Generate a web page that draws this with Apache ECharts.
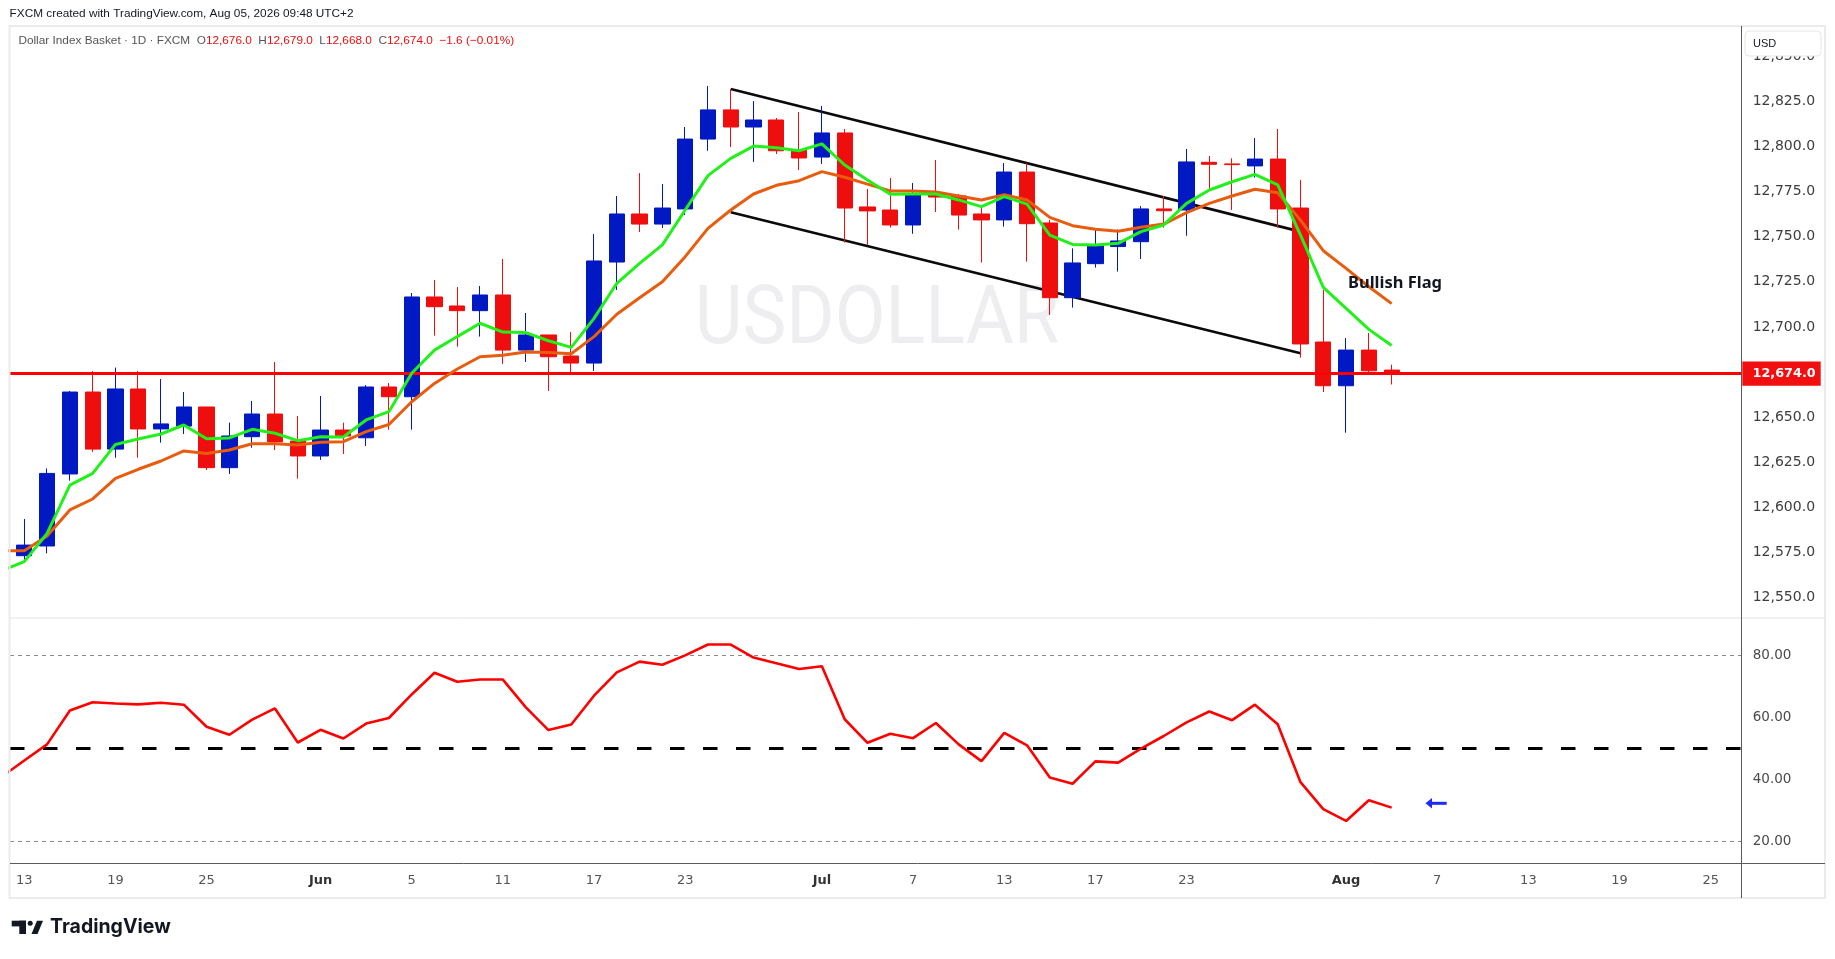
<!DOCTYPE html>
<html>
<head>
<meta charset="utf-8">
<script src="https://cdn.jsdelivr.net/npm/echarts@6/dist/echarts.min.js"></script>
<style>
html,body{margin:0;padding:0;background:#ffffff;}
#c{width:1835px;height:959px;}
</style>
</head>
<body>
<div id="c"></div>
<script>
// ---------------- DATA ----------------
const dates = [
 '2026-05-13','2026-05-14','2026-05-15','2026-05-18','2026-05-19','2026-05-20','2026-05-21','2026-05-22','2026-05-25','2026-05-26','2026-05-27','2026-05-28','2026-05-29',
 '2026-06-01','2026-06-02','2026-06-03','2026-06-04','2026-06-05','2026-06-08','2026-06-09','2026-06-10','2026-06-11','2026-06-12','2026-06-15','2026-06-16','2026-06-17','2026-06-18','2026-06-19','2026-06-22','2026-06-23','2026-06-24','2026-06-25','2026-06-26','2026-06-29','2026-06-30',
 '2026-07-01','2026-07-02','2026-07-03','2026-07-06','2026-07-07','2026-07-08','2026-07-09','2026-07-10','2026-07-13','2026-07-14','2026-07-15','2026-07-16','2026-07-17','2026-07-20','2026-07-21','2026-07-22','2026-07-23','2026-07-24','2026-07-27','2026-07-28','2026-07-29','2026-07-30','2026-07-31',
 '2026-08-03','2026-08-04','2026-08-05'
];
const opens = [
 12572.9,12578.3,12618.3,12663.8,12632.1,12665.5,12643.3,12644.9,12655.5,12621.8,12639.0,12651.6,12636.6,
 12628.3,12642.7,12638.4,12666.6,12661.2,12716.6,12711.6,12709.0,12717.7,12687.1,12695.5,12683.8,12679.9,12736.0,12762.7,12757.1,12765.5,12804.3,12820.5,12811.0,12814.9,12798.2,
 12794.3,12807.7,12766.6,12764.9,12756.6,12773.8,12772.7,12762.7,12759.4,12786.0,12757.7,12716.2,12735.1,12744.6,12747.3,12765.5,12764.9,12791.4,12790.5,12789.4,12793.2,12766.0,12691.6,
 12667.3,12687.1,12676.0
];
const closes = [
 12578.8,12618.6,12663.8,12632.1,12665.5,12643.3,12646.1,12655.5,12621.8,12639.4,12651.6,12636.1,12628.3,
 12642.7,12639.4,12666.6,12661.2,12716.6,12711.2,12709.0,12717.7,12687.1,12695.5,12683.4,12679.9,12736.6,12762.7,12757.1,12766.0,12804.3,12820.5,12811.0,12814.9,12797.8,12793.8,
 12807.7,12766.0,12764.4,12756.6,12773.8,12772.1,12762.1,12759.4,12786.0,12757.3,12716.2,12735.5,12745.5,12747.7,12765.5,12764.5,12791.6,12790.3,12790.1,12793.2,12765.5,12690.5,12667.3,
 12687.1,12675.6,12674.0
];
const lows = [
 12570.5,12574.2,12614.6,12630.6,12627.3,12627.3,12635.7,12640.5,12620.5,12618.3,12632.9,12631.6,12615.7,
 12626.1,12629.4,12633.8,12642.9,12642.9,12695.1,12689.0,12694.6,12679.4,12680.5,12664.4,12674.4,12675.5,12720.5,12752.7,12754.9,12762.1,12797.8,12799.9,12791.6,12796.0,12787.1,
 12790.5,12746.8,12745.5,12755.1,12751.7,12763.8,12754.0,12735.7,12755.7,12736.2,12706.6,12710.7,12732.9,12730.7,12737.7,12755.1,12750.6,12776.0,12764.9,12782.9,12755.1,12682.9,12663.8,
 12641.2,12674.0,12668.0
];
const highs = [
 12593.3,12621.4,12664.4,12675.5,12677.4,12675.5,12671.0,12663.8,12655.5,12646.8,12658.8,12680.5,12650.5,
 12661.6,12646.8,12667.7,12668.8,12718.8,12726.0,12722.1,12722.7,12737.7,12707.7,12695.5,12697.1,12751.6,12772.7,12785.4,12779.3,12811.0,12833.8,12832.1,12825.4,12816.0,12819.3,
 12822.7,12809.9,12776.6,12782.7,12779.9,12792.7,12773.8,12766.0,12791.0,12791.0,12759.4,12743.6,12754.7,12754.1,12767.1,12772.7,12798.8,12794.9,12793.6,12804.9,12809.9,12781.6,12720.5,
 12693.8,12696.6,12679.0
];
// moving averages and RSI start one bar before the first visible candle (index -1)
const seriesStart = -1;
const maFast = [
 12564.6,12569.6,12585.3,12612.1,12618.6,12634.7,12637.7,12640.5,12645.5,12637.9,12638.3,12643.1,12640.9,12636.8,
 12639.0,12638.8,12648.3,12652.9,12674.2,12687.1,12694.6,12702.0,12697.1,12696.8,12692.3,12688.6,12704.7,12724.2,12735.3,12745.5,12764.9,12784.0,12793.6,12800.4,12799.5,12797.8,
 12801.6,12789.9,12781.6,12773.6,12773.8,12773.8,12770.5,12766.8,12772.3,12768.2,12751.0,12745.8,12745.5,12746.4,12752.9,12756.6,12768.6,12776.0,12780.6,12784.7,12778.8,12751.0,12721.9,
 12710.3,12698.6,12689.7
];
const maSlow = [
 12575.7,12575.7,12583.8,12598.3,12604.4,12615.8,12620.9,12625.5,12631.1,12629.7,12631.6,12635.1,12635.1,12634.4,
 12635.9,12636.2,12641.8,12645.8,12658.4,12668.6,12676.6,12683.4,12684.2,12686.0,12685.7,12685.1,12694.6,12707.0,12716.2,12725.1,12739.0,12754.7,12764.9,12773.8,12778.6,12781.2,
 12786.2,12783.1,12779.3,12775.5,12775.5,12774.9,12772.7,12770.5,12773.4,12770.5,12760.8,12756.2,12754.2,12753.1,12755.3,12757.1,12763.4,12768.6,12772.7,12776.4,12774.5,12759.3,12742.3,
 12732.5,12722.3,12712.9
];
const rsi = [
 40.8,46.1,51.3,62.2,64.9,64.5,64.2,64.7,64.1,57.0,54.4,59.3,62.9,51.9,
 56.0,53.2,58.0,59.8,67.4,74.4,71.5,72.2,72.2,63.3,55.9,57.7,67.0,74.5,78.0,77.0,80.0,83.5,83.5,79.3,77.5,
 75.6,76.5,59.4,51.8,54.7,53.3,58.2,51.3,45.9,55.0,51.0,40.6,38.6,45.8,45.4,49.9,54.0,58.4,61.9,59.1,64.1,57.8,39.1,30.4,
 26.6,33.3,30.9
];
const upperTrend = [[31, 12832.1], [56, 12752.9]];
const lowerTrend = [[31, 12763.6], [56, 12685.3]];
const lastPrice = 12674.0;
const tickIdx = [0, 4, 8, 13, 17, 21, 25, 29, 35, 39, 43, 47, 51, 58, 62, 66, 70, 74];
const tickLabels = ['13','19','25','Jun','5','11','17','23','Jul','7','13','17','23','Aug','7','13','19','25'];
const monthLabels = ['Jun','Jul','Aug'];
const priceTicks = [12550,12575,12600,12625,12650,12675,12700,12725,12750,12775,12800,12825,12850];
const rsiTicks = [20, 40, 60, 80];
const rsiLevels = [80, 50, 20];

// ---------------- CHART ----------------
const BLUE = '#0019C2', RED = '#EE0E0E';
const GREEN = '#22F01A', ORANGE = '#E85C0E';
const AXIS_FONT = 'DejaVu Sans';
const X_MIN = -0.627, X_MAX = 75.36;

const chart = echarts.init(document.getElementById('c'), null, {renderer: 'canvas'});

const candleData = dates.map((d, i) => [i, opens[i], closes[i], lows[i], highs[i]]);
const fastData = maFast.map((v, k) => [k + seriesStart, v]);
const slowData = maSlow.map((v, k) => [k + seriesStart, v]);
const rsiData = rsi.map((v, k) => [k + seriesStart, v]);
const labelMap = {};
tickIdx.forEach((t, k) => { labelMap[t] = tickLabels[k]; });

const fmtPrice = v => Number(v).toLocaleString('en-US', {minimumFractionDigits: 1, maximumFractionDigits: 1});

chart.setOption({
  animation: false,
  backgroundColor: '#ffffff',
  grid: [
    {left: 10, right: 93.3, top: 26, height: 592},
    {left: 10, right: 93.3, top: 618, height: 245.3}
  ],
  xAxis: [
    {type: 'value', gridIndex: 0, min: X_MIN, max: X_MAX, show: false, splitLine: {show: false}},
    {type: 'value', gridIndex: 1, min: X_MIN, max: X_MAX,
      axisLine: {show: false}, axisTick: {show: false}, splitLine: {show: false},
      axisLabel: {
        customValues: tickIdx, margin: 11,
        fontFamily: AXIS_FONT, fontSize: 13, color: '#555555',
        formatter: v => {
          const s = labelMap[Math.round(v)] || '';
          return monthLabels.indexOf(s) >= 0 ? '{b|' + s + '}' : s;
        },
        rich: {b: {fontFamily: AXIS_FONT, fontSize: 13, fontWeight: 'bold', color: '#333333'}}
      }
    }
  ],
  yAxis: [
    {type: 'value', gridIndex: 0, position: 'right', min: 12538.3, max: 12867.1,
      axisLine: {show: false}, axisTick: {show: false}, splitLine: {show: false},
      axisLabel: {customValues: priceTicks, margin: 11, align: 'left',
        fontFamily: AXIS_FONT, fontSize: 14, color: '#3d3d3d', formatter: fmtPrice}
    },
    {type: 'value', gridIndex: 1, position: 'right', min: 12.94, max: 92.06,
      axisLine: {show: false}, axisTick: {show: false}, splitLine: {show: false},
      axisLabel: {customValues: rsiTicks, margin: 11, align: 'left',
        fontFamily: AXIS_FONT, fontSize: 13.5, color: '#4a4a4a', formatter: v => Number(v).toFixed(2)}
    }
  ],
  series: [
    {type: 'line', name: 'upper', xAxisIndex: 0, yAxisIndex: 0, data: upperTrend, z: 3,
      symbol: 'none', lineStyle: {color: '#0a0a0a', width: 2.6}, silent: true},
    {type: 'line', name: 'lower', xAxisIndex: 0, yAxisIndex: 0, data: lowerTrend, z: 3,
      symbol: 'none', lineStyle: {color: '#0a0a0a', width: 2.6}, silent: true},
    {type: 'candlestick', name: 'DXY', xAxisIndex: 0, yAxisIndex: 0, z: 4,
      data: candleData, encode: {x: 0, y: [1, 2, 3, 4]},
      barWidth: 15.8,
      itemStyle: {color: BLUE, color0: RED, borderColor: BLUE, borderColor0: RED, borderWidth: 1}
    },
    {type: 'line', name: 'MA fast', xAxisIndex: 0, yAxisIndex: 0, data: fastData, z: 6,
      symbol: 'none', lineStyle: {color: GREEN, width: 3}, silent: true},
    {type: 'line', name: 'MA slow', xAxisIndex: 0, yAxisIndex: 0, data: slowData, z: 5,
      symbol: 'none', lineStyle: {color: ORANGE, width: 3}, silent: true,
      markLine: {silent: true, symbol: 'none', label: {show: false},
        lineStyle: {color: '#FF0000', width: 3, type: 'solid'},
        data: [{yAxis: lastPrice}]}
    },
    {type: 'line', name: 'RSI', xAxisIndex: 1, yAxisIndex: 1, data: rsiData, z: 5,
      symbol: 'none', lineStyle: {color: '#FF0000', width: 2.6}, silent: true,
      markLine: {silent: true, symbol: 'none', label: {show: false},
        data: rsiLevels.map(v => v === 50
          ? {yAxis: v, lineStyle: {color: '#000000', width: 3, type: [14.5, 18.5]}}
          : {yAxis: v, lineStyle: {color: '#8a8a8a', width: 1, type: [4, 4]}})
      }
    }
  ]
});

// ---------------- OVERLAYS ----------------
const yLast = chart.convertToPixel({yAxisIndex: 0}, lastPrice);
const lastLabel = fmtPrice(lastPrice);
const last = dates.length - 1;
const chg = closes[last] - closes[last - 1];
const chgPct = chg / closes[last - 1] * 100;
const minus = '\u2212';

const legendRich = {
  t: {fill: '#555555', font: '11.8px "Liberation Sans"'},
  g: {fill: '#555555', font: '11.8px "Liberation Sans"'},
  r: {fill: RED, font: '11.8px "Liberation Sans"'}
};
const legendText =
  '{t|Dollar Index Basket \u00b7 1D \u00b7 FXCM}{t|  }' +
  '{g|O}{r|' + fmtPrice(opens[last]) + '}{t|  }' +
  '{g|H}{r|' + fmtPrice(highs[last]) + '}{t|  }' +
  '{g|L}{r|' + fmtPrice(lows[last]) + '}{t|  }' +
  '{g|C}{r|' + fmtPrice(closes[last]) + '}{t|  }' +
  '{r|' + minus + Math.abs(chg).toFixed(1) + ' (' + minus + Math.abs(chgPct).toFixed(2) + '%)}';

chart.setOption({
  graphic: [
    // watermark
    {type: 'text', z: 0, x: 877, y: 322, scaleX: 0.9,
      style: {text: 'USDOLLAR', font: '82px Roboto', fill: '#EEEEF1', align: 'center', verticalAlign: 'middle'}},
    // pane frame
    {type: 'rect', z: 50, shape: {x: 9.5, y: 26, width: 1815.5, height: 872},
      style: {fill: 'none', stroke: '#EBEBEB', lineWidth: 2}},
    // pane separator
    {type: 'line', z: 50, shape: {x1: 10, y1: 618, x2: 1825, y2: 618},
      style: {stroke: '#E3E3E3', lineWidth: 1}},
    // time axis line
    {type: 'line', z: 50, shape: {x1: 10, y1: 863.5, x2: 1825, y2: 863.5},
      style: {stroke: '#5a5a5a', lineWidth: 1}},
    // price axis line
    {type: 'line', z: 50, shape: {x1: 1741.5, y1: 26, x2: 1741.5, y2: 898},
      style: {stroke: '#5a5a5a', lineWidth: 1}},
    // header
    {type: 'text', z: 60, x: 9.6, y: 14,
      style: {text: 'FXCM created with TradingView.com, Aug 05, 2026 09:48 UTC+2',
        font: '11.8px "Liberation Sans"', fill: '#131722', verticalAlign: 'middle'}},
    // legend
    {type: 'text', z: 60, x: 18.4, y: 41,
      style: {text: legendText, rich: legendRich, font: '11.8px "Liberation Sans"', verticalAlign: 'middle'}},
    // USD box
    {type: 'rect', z: 60, shape: {x: 1745, y: 31, width: 76, height: 25, r: 4},
      style: {fill: '#ffffff', stroke: '#E6E6E6', lineWidth: 1}},
    {type: 'text', z: 61, x: 1753, y: 43.5,
      style: {text: 'USD', font: '11px "Liberation Sans"', fill: '#131722', verticalAlign: 'middle'}},
    // last price label
    {type: 'rect', z: 60, shape: {x: 1742.3, y: yLast - 12.2, width: 78.4, height: 24.4},
      style: {fill: '#F20F0F'}},
    {type: 'text', z: 61, x: 1752.5, y: yLast,
      style: {text: lastLabel, font: 'bold 12.8px "DejaVu Sans"', fill: '#ffffff', verticalAlign: 'middle'}},
    // Bullish Flag annotation
    {type: 'text', z: 60, x: 1348, y: 283,
      style: {text: 'Bullish Flag', font: 'bold 16.5px "Noto Sans"', fill: '#131722', verticalAlign: 'middle'}},
    // blue arrow in RSI pane
    {type: 'line', z: 60, shape: {x1: 1430, y1: 803.3, x2: 1446.7, y2: 803.3},
      style: {stroke: '#1E2BF5', lineWidth: 3}},
    {type: 'polygon', z: 60, shape: {points: [[1425.5, 803.3], [1432, 798], [1432, 808.6]]},
      style: {fill: '#1E2BF5'}},
    // TradingView logo
    {type: 'rect', z: 60, shape: {x: 11.7, y: 920.7, width: 14.3, height: 5.7}, style: {fill: '#131722'}},
    {type: 'rect', z: 60, shape: {x: 19.3, y: 920.7, width: 6.7, height: 13.3}, style: {fill: '#131722'}},
    {type: 'circle', z: 60, shape: {cx: 30.2, cy: 923.2, r: 2.5}, style: {fill: '#131722'}},
    {type: 'polygon', z: 60, shape: {points: [[31.5, 934], [37.5, 934], [43, 920.7], [37, 920.7]]}, style: {fill: '#131722'}},
    {type: 'text', z: 60, x: 50, y: 927.5,
      style: {text: 'TradingView', font: 'bold 19.5px Inter', fill: '#131722', verticalAlign: 'middle'}}
  ]
});
</script>
</body>
</html>
